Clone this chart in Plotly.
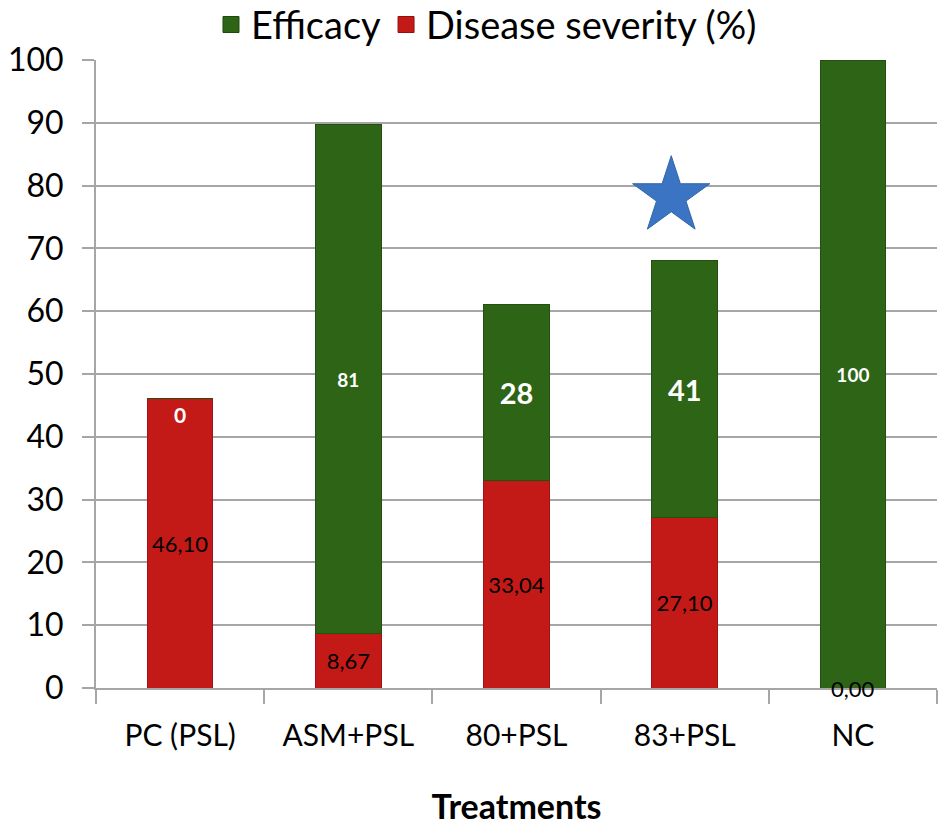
import plotly.graph_objects as go

categories = ["PC (PSL)", "ASM+PSL", "80+PSL", "83+PSL", "NC"]
severity = [46.10, 8.67, 33.04, 27.10, 0.00]
efficacy = [0, 81, 28, 41, 100]
severity_labels = ["46,10", "8,67", "33,04", "27,10", "0,00"]
efficacy_label_sizes = [21, 19, 29, 29, 19]
star_category = "83+PSL"
star_y = 78.3
y_ticks = [0, 10, 20, 30, 40, 50, 60, 70, 80, 90, 100]

RED = "#C41A17"
GREEN = "#2E6416"
FONT = "Lato, sans-serif"
BOLD = "Lato, sans-serif"

fig = go.Figure()
fig.add_trace(go.Bar(
    x=categories, y=severity, name="Disease severity (%)", showlegend=False,
    marker=dict(color=RED, line=dict(color="#9E1412", width=1)),
    text=[l if v > 0 else "" for l, v in zip(severity_labels, severity)],
    textposition="inside", insidetextanchor="middle",
    textfont=dict(color="black", size=22, family=FONT),
    width=0.39, hoverinfo="skip",
))
fig.add_trace(go.Bar(
    x=categories, y=efficacy, name="Efficacy", showlegend=False,
    marker=dict(color=GREEN, line=dict(color="#244F11", width=1)),
    text=[str(v) if v > 0 else "" for v in efficacy],
    textposition="inside", insidetextanchor="middle",
    textfont=dict(color="white", size=efficacy_label_sizes, family=BOLD, weight="bold"),
    width=0.39, hoverinfo="skip",
))

# legend entries with larger square swatches
for name, col, lc in [("Efficacy", GREEN, "#1F4A0E"), ("Disease severity (%)", RED, "#8E1210")]:
    fig.add_trace(go.Scatter(
        x=[None], y=[None], mode="markers", name=name,
        marker=dict(symbol="square", size=22, color=col, line=dict(color=lc, width=1)),
    ))

# labels for zero-height segments
annotations = []
for c, s, e, sl, fs in zip(categories, severity, efficacy, severity_labels, efficacy_label_sizes):
    if s == 0:
        annotations.append(dict(x=c, y=s, text=sl, showarrow=False, yanchor="middle",
                                font=dict(color="black", size=22, family=FONT)))
    if e == 0:
        annotations.append(dict(x=c, y=s + e, text=str(e), showarrow=False, yanchor="top", yshift=-2,
                                font=dict(color="white", size=fs, family=BOLD, weight="bold")))

# star marker, drawn on an overlaid numeric x axis so it can sit slightly left of the bar centre
star_idx = categories.index(star_category)
fig.add_trace(go.Scatter(
    x=[star_idx - 0.08], y=[star_y], mode="markers", showlegend=False, xaxis="x2",
    marker=dict(symbol="star", size=58, color="#3B74C2", line=dict(color="#3466AA", width=1)),
    hoverinfo="skip",
))

fig.update_layout(
    barmode="stack",
    width=941, height=827,
    margin=dict(l=96, r=4, t=60, b=139, autoexpand=False),
    plot_bgcolor="white", paper_bgcolor="white",
    font=dict(family=FONT, color="black"),
    annotations=annotations,
    legend=dict(orientation="h", xref="container", x=0.517, xanchor="center",
                yref="container", y=0.970, yanchor="middle", traceorder="normal",
                font=dict(size=38, family=FONT),
                itemwidth=30, bgcolor="rgba(0,0,0,0)"),
    xaxis=dict(
        showgrid=False, showline=True, linecolor="#A6A6A6", linewidth=2,
        ticks="outside", tickson="boundaries", ticklen=14, tickcolor="#A6A6A6", tickwidth=2,
        tickfont=dict(size=30, family=FONT), ticklabelstandoff=20,
        title=dict(text="<b>Treatments</b>", font=dict(size=34, family=BOLD), standoff=44),
        range=[-0.5, 4.5],
    ),
    xaxis2=dict(overlaying="x", range=[-0.5, 4.5], visible=False, side="top"),
    yaxis=dict(
        range=[0, 100], tickvals=y_ticks, showgrid=True, gridcolor="#A6A6A6", gridwidth=2,
        showline=True, linecolor="#A6A6A6", linewidth=2,
        ticks="outside", ticklen=12, tickcolor="#A6A6A6", tickwidth=2,
        tickfont=dict(size=32, family=FONT), zeroline=False, ticklabelstandoff=12,
    ),
)

fig.write_html("out.html")
